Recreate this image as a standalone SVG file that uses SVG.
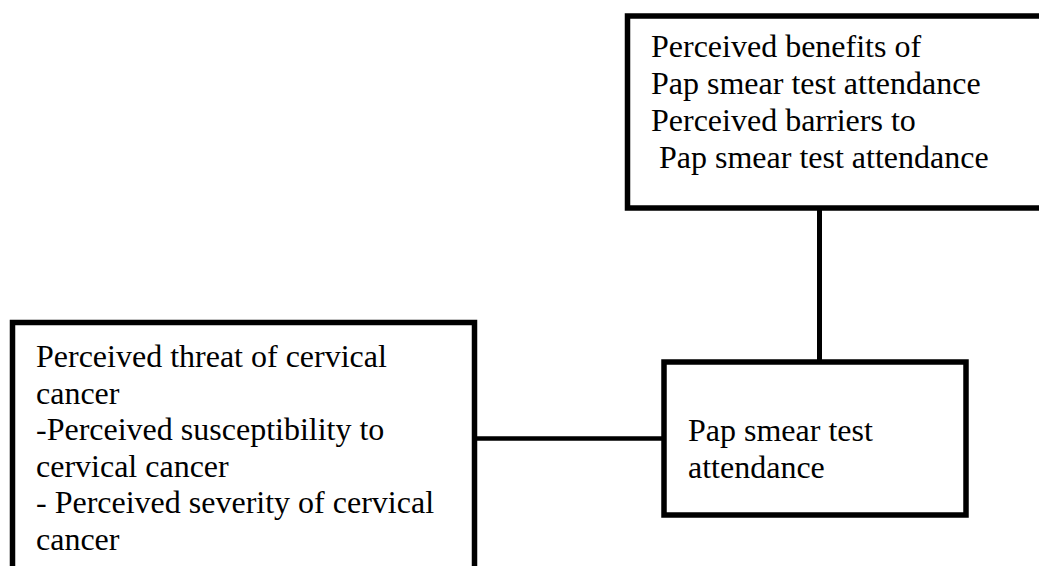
<svg xmlns="http://www.w3.org/2000/svg" width="1039" height="566" viewBox="0 0 1039 566">
<style>
.box{fill:#fff;stroke:#000;stroke-width:5.5}
.conn{stroke:#000;stroke-width:5;fill:none}
.t{font-family:'Liberation Serif','Times New Roman','DejaVu Serif',serif;font-size:32px;fill:#000}
</style>
<rect width="1039" height="566" fill="#fff"/>
<g id="connectors">
<line class="conn" x1="819.5" y1="208" x2="819.5" y2="362"/>
<line class="conn" x1="474.5" y1="438.5" x2="664" y2="438.5" style="stroke-width:4.5"/>
</g>
<g id="benefits-barriers">
<rect class="box" x="627.5" y="16" width="430" height="192"/>
<g class="t" font-family="Liberation Serif, serif">
<text x="651" y="57">Perceived benefits of</text>
<text x="651" y="94">Pap smear test attendance</text>
<text x="651" y="131">Perceived barriers to</text>
<text x="651" y="168" xml:space="preserve"> Pap smear test attendance</text>
</g>
</g>
<g id="threat">
<rect class="box" x="12.5" y="322.5" width="462" height="260"/>
<g class="t">
<text x="36" y="367">Perceived threat of cervical</text>
<text x="36" y="403.6">cancer</text>
<text x="36" y="440.2">-Perceived susceptibility to</text>
<text x="36" y="476.8">cervical cancer</text>
<text x="36" y="513.4">- Perceived severity of cervical</text>
<text x="36" y="550">cancer</text>
</g>
</g>
<g id="attendance">
<rect class="box" x="664" y="362" width="302" height="153"/>
<g class="t">
<text x="688" y="440.7">Pap smear test</text>
<text x="688" y="477.7">attendance</text>
</g>
</g>
</svg>
